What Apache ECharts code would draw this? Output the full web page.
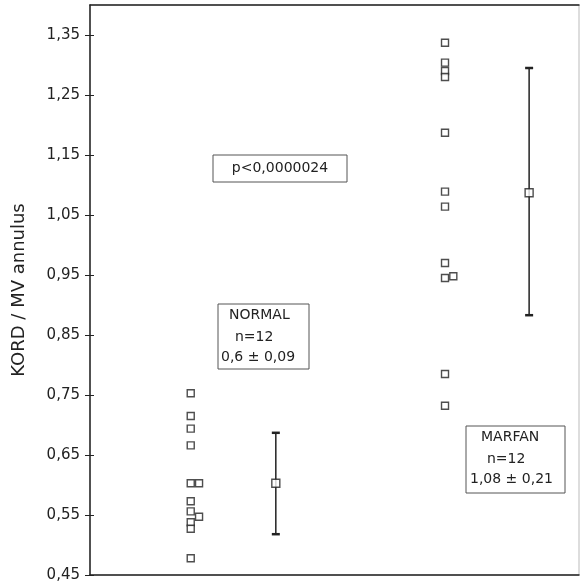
<!DOCTYPE html>
<html>
<head>
<meta charset="utf-8">
<script src="https://cdn.jsdelivr.net/npm/echarts@6.0.0/dist/echarts.min.js"></script>
<style>
  html, body { margin: 0; padding: 0; background: #fff; }
  #main { width: 580px; height: 586px; }
</style>
</head>
<body>
<div id="main"></div>
<script>
// y tick labels (values, shown with a decimal comma)
var yTicks = [0.45, 0.55, 0.65, 0.75, 0.85, 0.95, 1.05, 1.15, 1.25, 1.35];

// individual patients, NORMAL group
var normalValues = [0.753, 0.715, 0.694, 0.666, 0.603, 0.603, 0.573, 0.556, 0.547, 0.538, 0.527, 0.478];
var normalX      = [20.6, 20.6, 20.6, 20.6, 20.6, 22.3, 20.6, 20.6, 22.3, 20.6, 20.6, 20.6];

// individual patients, MARFAN group
var marfanValues = [1.337, 1.304, 1.290, 1.280, 1.187, 1.089, 1.064, 0.970, 0.945, 0.948, 0.785, 0.732];
var marfanX      = [72.6, 72.6, 72.6, 72.6, 72.6, 72.6, 72.6, 72.6, 72.6, 74.3, 72.6, 72.6];

// group mean and +/- SD (NORMAL, MARFAN)
var meanX  = [38.0, 89.8];
var means  = [0.603, 1.087];
var sdLow  = [0.518, 0.883];
var sdHigh = [0.687, 1.295];

var FONT = 'DejaVu Sans';
var INK = '#222';

var chart = function()
{
    var build = function() {
        var myChart = echarts.init(document.getElementById('main'));

        var pts = function(xs, ys) {
            return ys.map(function(v, i) { return [xs[i], v]; });
        };
        var barData = meanX.map(function(x, i) { return [x, sdLow[i], sdHigh[i]]; });

        var box = function(x, y, w, h) {
            return { type: 'rect', shape: { x: x, y: y, width: w, height: h },
                     style: { fill: '#fff', stroke: '#555', lineWidth: 1 }, z: 10 };
        };
        var txt = function(x, y, s) {
            return { type: 'text', x: x, y: y, z: 11,
                     style: { text: s, font: '14px "' + FONT + '"', fill: INK, textVerticalAlign: 'middle' } };
        };

        var option = {
            animation: false,
            backgroundColor: '#fff',
            grid: {
                left: 90, right: 1, top: 5, bottom: 11,
                show: true, borderColor: '#bbb', borderWidth: 1
            },
            xAxis: [
                {
                    type: 'value', min: 0, max: 100, position: 'bottom',
                    axisLine: { show: true, lineStyle: { color: INK, width: 1.5 } },
                    axisTick: { show: false }, axisLabel: { show: false }, splitLine: { show: false }
                },
                {
                    type: 'value', min: 0, max: 100, position: 'top',
                    axisLine: { show: true, lineStyle: { color: INK, width: 1.5 } },
                    axisTick: { show: false }, axisLabel: { show: false }, splitLine: { show: false }
                }
            ],
            yAxis: [
                {
                    type: 'value', min: 0.45, max: 1.40, position: 'left',
                    name: 'KORD / MV annulus', nameLocation: 'middle', nameGap: 62,
                    nameTextStyle: { fontFamily: FONT, fontSize: 18, color: INK },
                    axisLine: { show: true, lineStyle: { color: INK, width: 1.5 } },
                    axisTick: { show: true, length: 5, customValues: yTicks, lineStyle: { color: INK } },
                    axisLabel: {
                        customValues: yTicks, margin: 10,
                        fontFamily: FONT, fontSize: 15, color: INK,
                        formatter: function(v) { return v.toFixed(2).replace('.', ','); }
                    },
                    splitLine: { show: false }
                },
                {
                    type: 'value', min: 0.45, max: 1.40, position: 'left',
                    axisLine: { show: false },
                    axisTick: { show: true, inside: true, length: 4, customValues: yTicks, lineStyle: { color: INK } },
                    axisLabel: { show: false },
                    splitLine: { show: false }
                }
            ],
            series: [
                {
                    name: 'NORMAL', type: 'scatter', data: pts(normalX, normalValues),
                    symbol: 'rect', symbolSize: 7,
                    itemStyle: { color: '#fff', borderColor: INK, borderWidth: 1.4 }, z: 5
                },
                {
                    name: 'MARFAN', type: 'scatter', data: pts(marfanX, marfanValues),
                    symbol: 'rect', symbolSize: 7,
                    itemStyle: { color: '#fff', borderColor: INK, borderWidth: 1.4 }, z: 5
                },
                {
                    name: 'SD', type: 'custom', data: barData, z: 3,
                    renderItem: function(params, api) {
                        var x = api.value(0);
                        var top = api.coord([x, api.value(2)]);
                        var bot = api.coord([x, api.value(1)]);
                        var w = 4;
                        var st = { stroke: INK, lineWidth: 1.5 };
                        return { type: 'group', children: [
                            { type: 'line', shape: { x1: top[0], y1: top[1], x2: bot[0], y2: bot[1] }, style: st },
                            { type: 'line', shape: { x1: top[0] - w, y1: top[1], x2: top[0] + w, y2: top[1] }, style: { stroke: INK, lineWidth: 2.5 } },
                            { type: 'line', shape: { x1: bot[0] - w, y1: bot[1], x2: bot[0] + w, y2: bot[1] }, style: { stroke: INK, lineWidth: 2.5 } }
                        ] };
                    }
                },
                {
                    name: 'mean', type: 'scatter', data: pts(meanX, means),
                    symbol: 'rect', symbolSize: 8,
                    itemStyle: { color: '#fff', borderColor: INK, borderWidth: 1.4 }, z: 6
                }
            ],
            graphic: [
                box(213, 155, 134, 27),
                { type: 'text', x: 280, y: 168.5, z: 11,
                  style: { text: 'p<0,0000024', font: '14px "' + FONT + '"', fill: INK, textAlign: 'center', textVerticalAlign: 'middle' } },

                box(218, 304, 91, 65),
                txt(229, 315, 'NORMAL'),
                txt(235, 337, 'n=12'),
                txt(221, 357, '0,6 \u00b1 0,09'),

                box(466, 426, 99, 67),
                txt(481, 437, 'MARFAN'),
                txt(487, 459, 'n=12'),
                txt(470, 479, '1,08 \u00b1 0,21')
            ]
        };

        myChart.setOption(option);
    };

    return {
        init: function() { build(); }
    };
}();

chart.init();
</script>
</body>
</html>
